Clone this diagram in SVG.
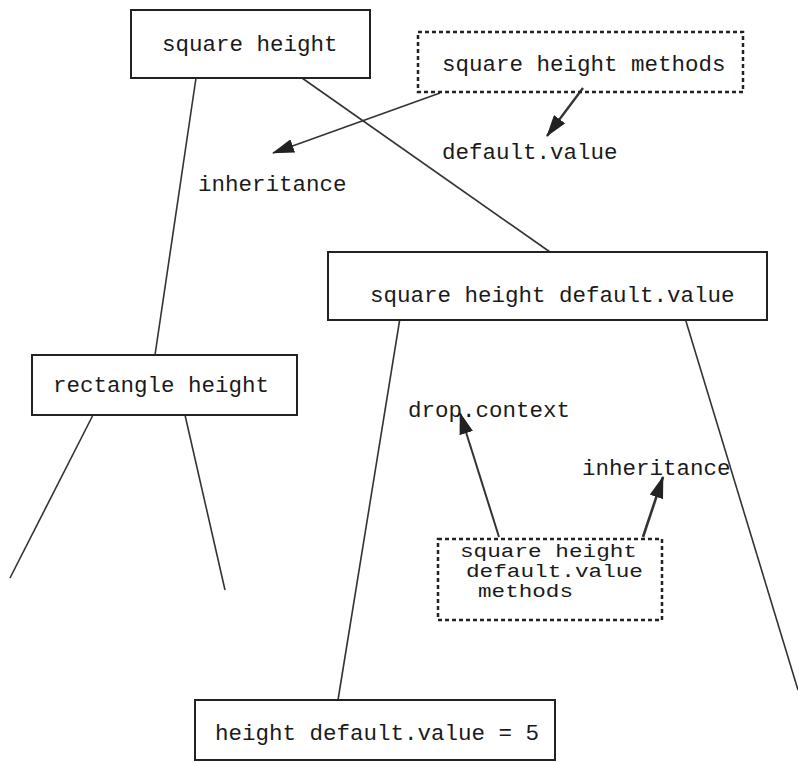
<svg xmlns="http://www.w3.org/2000/svg" width="798" height="763" viewBox="0 0 798 763">
<style>
.box{fill:#fff;stroke:#222;stroke-width:2}
.dash{fill:none;stroke:#222;stroke-width:2.5;stroke-dasharray:4,3}
.ln{stroke:#333;stroke-width:1.6;fill:none}
text{font-family:"Liberation Mono","Courier New",monospace;font-size:22.5px;fill:#1a1a1a}
.sm{font-size:18px}
</style>
<defs>
<marker id="ahl" markerWidth="22" markerHeight="14" refX="21" refY="7" orient="auto" markerUnits="userSpaceOnUse" viewBox="0 0 22 14">
<path d="M0,0 L22,7 L0,14 Z" fill="#222"/>
</marker>
</defs>
<g id="connectors">
<line class="ln" x1="196" y1="78" x2="155" y2="355"/>
<line class="ln" x1="302" y1="78" x2="550" y2="252"/>
<line class="ln" x1="400" y1="318" x2="338" y2="700"/>
<line class="ln" x1="685" y1="318" x2="798" y2="690"/>
<line class="ln" x1="93" y1="415" x2="10" y2="578"/>
<line class="ln" x1="185" y1="415" x2="225" y2="590"/>
<line class="ln" x1="440" y1="93" x2="273" y2="153" style="marker-end:url(#ahl)"/>
<line class="ln" x1="583" y1="88" x2="547" y2="136" style="stroke-width:2.4;marker-end:url(#ahl)"/>
<line class="ln" x1="499" y1="537" x2="460" y2="413" style="stroke-width:2;marker-end:url(#ahl)"/>
<line class="ln" x1="643" y1="537" x2="663" y2="477" style="stroke-width:2.6;marker-end:url(#ahl)"/>
</g>
<g id="n_square_height">
<rect class="box" x="131" y="10" width="239" height="68"/>
<text x="162" y="51">square height</text>
</g>
<g id="n_square_height_methods">
<rect class="dash" x="418" y="32" width="325" height="60"/>
<text x="442" y="71">square height methods</text>
</g>
<g id="l_default_value">
<text x="442" y="159">default.value</text>
</g>
<g id="l_inheritance_1">
<text x="198" y="191">inheritance</text>
</g>
<g id="n_square_height_default_value">
<rect class="box" x="328" y="252" width="439" height="68"/>
<text x="370" y="302">square height default.value</text>
</g>
<g id="n_rectangle_height">
<rect class="box" x="32" y="355" width="265" height="60"/>
<text x="53" y="392">rectangle height</text>
</g>
<g id="l_drop_context">
<text x="408" y="417">drop.context</text>
</g>
<g id="l_inheritance_2">
<text x="582" y="475">inheritance</text>
</g>
<g id="n_sq_methods">
<rect class="dash" x="438" y="539" width="224" height="81"/>
<text class="sm" x="460" y="557" textLength="177" lengthAdjust="spacingAndGlyphs">square height</text>
<text class="sm" x="466" y="577" textLength="177" lengthAdjust="spacingAndGlyphs">default.value</text>
<text class="sm" x="478" y="597" textLength="95" lengthAdjust="spacingAndGlyphs">methods</text>
</g>
<g id="n_height_default_value">
<rect class="box" x="195" y="700" width="360" height="60"/>
<text x="215" y="740">height default.value = 5</text>
</g>
</svg>
